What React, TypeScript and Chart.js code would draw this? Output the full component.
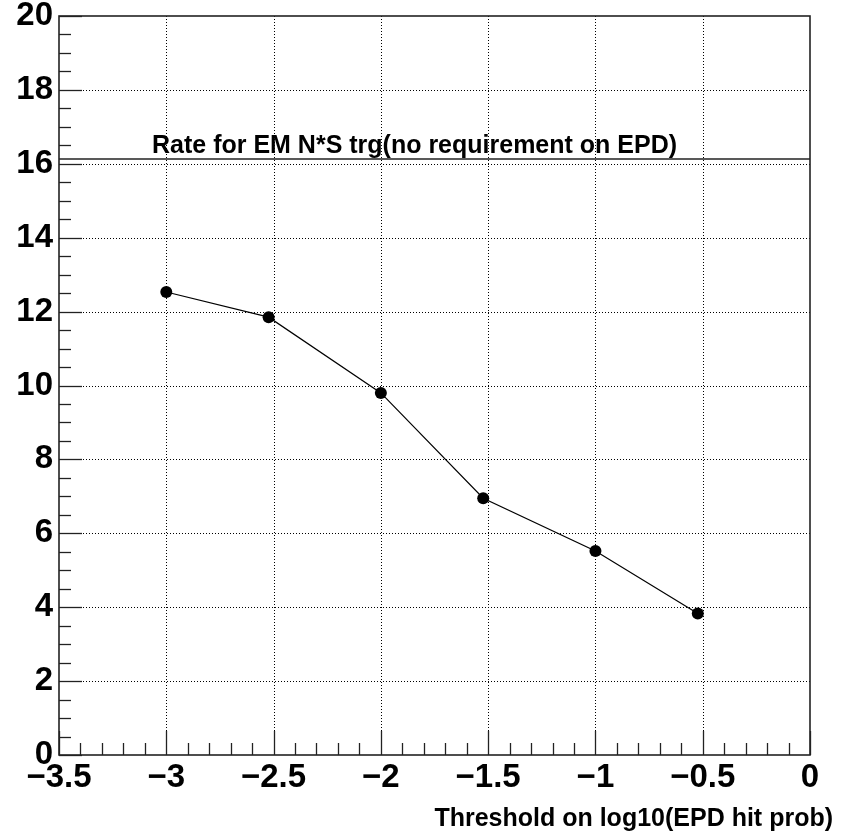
import React, { useEffect, useRef } from "react";
import { Chart, registerables } from "chart.js";

Chart.register(...registerables);

// ---- data ----
const thresholds = [-3, -2.523, -2, -1.523, -1, -0.523];
const rates = [12.53, 11.85, 9.8, 6.95, 5.52, 3.83];
const referenceX = [-3.5, 0];
const referenceRate = 16.13;
const referenceLabel = "Rate for EM N*S trg(no requirement on EPD)";
const xAxisTitle = "Threshold on log10(EPD hit prob)";
const xMin = -3.5;
const xMax = 0;
const yMin = 0;
const yMax = 20;
const xMajorStep = 0.5;
const xMinorDiv = 5;
const yMajorStep = 2;
const yMinorDiv = 4;

const W = 842;
const H = 835;
const FONT = "'Liberation Sans', Arial, Helvetica, sans-serif";

const fmt = (v: number) => {
  const s = String(Math.round(v * 1000) / 1000);
  return s.startsWith("-") ? "\u2212" + s.slice(1) : s;
};

const rootStyle = {
  id: "rootStyle",
  beforeDatasetsDraw(chart: any) {
    const { ctx, chartArea: a, scales } = chart;
    const x = scales.x;
    const y = scales.y;
    ctx.save();
    ctx.strokeStyle = "#000";
    ctx.lineWidth = 1;
    ctx.setLineDash([1, 2]);
    x.ticks.forEach((t: any) => {
      if (t.value <= xMin || t.value >= xMax) return;
      const px = Math.round(x.getPixelForValue(t.value)) + 0.5;
      ctx.beginPath();
      ctx.moveTo(px, a.top);
      ctx.lineTo(px, a.bottom);
      ctx.stroke();
    });
    y.ticks.forEach((t: any) => {
      if (t.value <= yMin || t.value >= yMax) return;
      const py = Math.round(y.getPixelForValue(t.value)) + 0.5;
      ctx.beginPath();
      ctx.moveTo(a.left, py);
      ctx.lineTo(a.right, py);
      ctx.stroke();
    });
    ctx.restore();
  },
  afterDatasetsDraw(chart: any) {
    const { ctx, chartArea: a, scales } = chart;
    const x = scales.x;
    const y = scales.y;
    ctx.save();
    ctx.setLineDash([]);
    ctx.strokeStyle = "#222";
    ctx.lineWidth = 1.6;
    ctx.strokeRect(a.left, a.top, a.right - a.left, a.bottom - a.top);

    ctx.lineWidth = 1.3;
    ctx.strokeStyle = "#222";
    // x ticks
    const xMinorStep = xMajorStep / xMinorDiv;
    const nx = Math.round((xMax - xMin) / xMinorStep);
    for (let i = 0; i <= nx; i++) {
      const v = xMin + i * xMinorStep;
      const len = i % xMinorDiv === 0 ? 24 : 12;
      const px = Math.round(x.getPixelForValue(v)) + 0.5;
      ctx.beginPath();
      ctx.moveTo(px, a.bottom);
      ctx.lineTo(px, a.bottom - len);
      ctx.stroke();
    }
    // y ticks
    const yMinorStep = yMajorStep / yMinorDiv;
    const ny = Math.round((yMax - yMin) / yMinorStep);
    for (let i = 0; i <= ny; i++) {
      const v = yMin + i * yMinorStep;
      const len = i % yMinorDiv === 0 ? 23 : 12;
      const py = Math.round(y.getPixelForValue(v)) + 0.5;
      ctx.beginPath();
      ctx.moveTo(a.left, py);
      ctx.lineTo(a.left + len, py);
      ctx.stroke();
    }

    // reference label above the horizontal line
    ctx.fillStyle = "#000";
    ctx.font = `bold 25px ${FONT}`;
    ctx.textAlign = "left";
    ctx.textBaseline = "alphabetic";
    ctx.fillText(referenceLabel, 152, y.getPixelForValue(referenceRate) - 6);

    // x axis title
    ctx.textAlign = "right";
    ctx.fillText(xAxisTitle, 833, 826);
    ctx.restore();
  },
};

export default function App() {
  const ref = useRef<HTMLCanvasElement | null>(null);
  useEffect(() => {
    if (!ref.current) return;
    const chart = new Chart(ref.current, {
      type: "scatter",
      data: {
        datasets: [
          {
            data: thresholds.map((t, i) => ({ x: t, y: rates[i] })),
            showLine: true,
            borderColor: "#000",
            borderWidth: 1.2,
            backgroundColor: "#000",
            pointBackgroundColor: "#000",
            pointBorderColor: "#000",
            pointRadius: 6,
            pointBorderWidth: 0,
          },
          {
            data: referenceX.map((t) => ({ x: t, y: referenceRate })),
            showLine: true,
            borderColor: "#222",
            borderWidth: 1.6,
            pointRadius: 0,
          },
        ],
      },
      options: {
        responsive: false,
        animation: false,
        devicePixelRatio: 1,
        layout: { padding: { top: 16, right: 32, left: 0, bottom: 0 } },
        plugins: {
          legend: { display: false },
          tooltip: { enabled: false },
          title: { display: false },
        },
        scales: {
          x: {
            type: "linear",
            min: xMin,
            max: xMax,
            grid: { display: false, drawTicks: false },
            border: { display: false },
            ticks: {
              stepSize: xMajorStep,
              color: "#000",
              padding: 3,
              maxRotation: 0,
              autoSkip: false,
              font: { family: FONT, size: 33, weight: "bold" },
              callback: (v: any) => fmt(Number(v)),
            },
            afterFit: (s: any) => {
              s.height = 80;
              s.paddingLeft = 0;
              s.paddingRight = 0;
            },
          },
          y: {
            type: "linear",
            min: yMin,
            max: yMax,
            grid: { display: false, drawTicks: false },
            border: { display: false },
            ticks: {
              stepSize: yMajorStep,
              color: "#000",
              padding: 6,
              autoSkip: false,
              font: { family: FONT, size: 33, weight: "bold" },
              callback: (v: any) => fmt(Number(v)),
            },
            afterFit: (s: any) => {
              s.width = 59;
              s.paddingTop = 0;
              s.paddingBottom = 0;
            },
          },
        },
      },
      plugins: [rootStyle],
    } as any);
    return () => chart.destroy();
  }, []);
  return (
    <div style={{ position: "absolute", left: 0, top: 0, width: W, height: H, background: "#fff" }}>
      <canvas ref={ref} width={W} height={H} style={{ display: "block", width: W, height: H }} />
    </div>
  );
}
